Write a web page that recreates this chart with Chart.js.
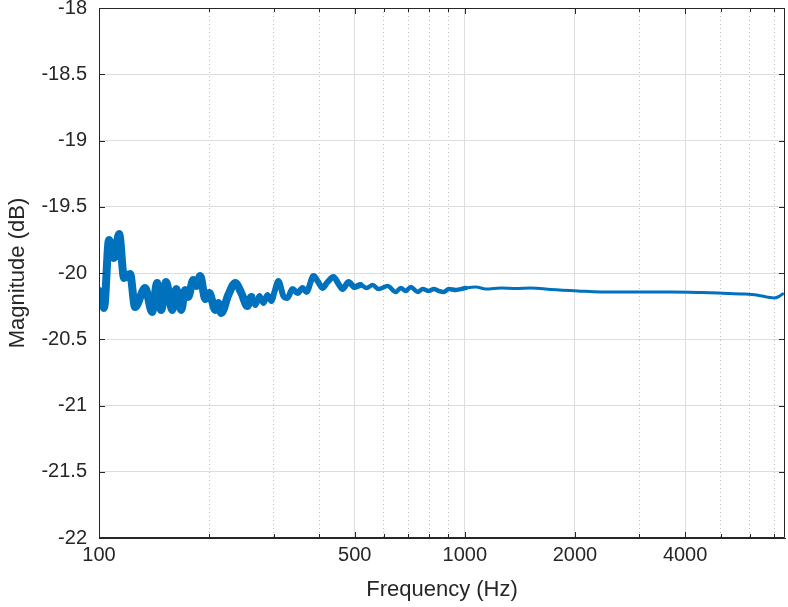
<!DOCTYPE html>
<html>
<head>
<meta charset="utf-8">
<title>Magnitude response</title>
<script src="https://cdn.jsdelivr.net/npm/chart.js@4/dist/chart.umd.min.js"></script>
<style>
  html, body { margin: 0; padding: 0; background: #fff; }
</style>
</head>
<body>
<canvas id="magChart" width="788" height="607"></canvas>
<script>
// values
const freqHz = [100, 101.3, 103.2, 106.5, 109.9, 113.5, 117.1, 121.6, 125.5, 133.7,
  139.7, 144.2, 147.9, 152.6, 158.5, 162.6, 167.8, 172.0, 175.3, 180.9,
  184.4, 189.1, 195.2, 200.2, 207.9, 211.8, 215.9, 225.6, 235.8, 244.9,
  254.4, 260.9, 267.6, 274.4, 281.4, 288.6, 296.0, 301.7, 309.3, 319.3,
  327.4, 337.9, 348.8, 360.0, 369.1, 385.8, 395.7, 408.3, 421.4, 437.7,
  451.7, 463.3, 481.1, 499.6, 518.9, 538.9, 559.7, 581.3, 615.2, 647.1,
  667.9, 689.3, 711.4, 743.4, 767.2, 796.9, 822.5, 848.8, 876.0, 904.1,
  944.7, 1006, 1072, 1142, 1255, 1380, 1516, 1720, 2040, 2358,
  2979, 3668, 4433, 4934, 5705, 6271, 6679, 7025, 7250, 7388];

const magDb = [-20.136, -20.189, -20.264, -19.751, -19.887, -19.706, -20.038, -20.008, -20.257, -20.113,
  -20.294, -20.075, -20.279, -20.068, -20.279, -20.121, -20.279, -20.128, -20.181, -20.053,
  -20.098, -20.023, -20.196, -20.151, -20.279, -20.226, -20.302, -20.166, -20.075, -20.151,
  -20.249, -20.181, -20.242, -20.174, -20.226, -20.166, -20.211, -20.143, -20.060, -20.174,
  -20.189, -20.121, -20.151, -20.113, -20.143, -20.023, -20.060, -20.113, -20.068, -20.030,
  -20.083, -20.121, -20.068, -20.106, -20.091, -20.113, -20.091, -20.121, -20.098, -20.143,
  -20.113, -20.136, -20.106, -20.143, -20.121, -20.136, -20.121, -20.136, -20.143, -20.121,
  -20.128, -20.113, -20.106, -20.121, -20.113, -20.117, -20.113, -20.125, -20.136, -20.143,
  -20.143, -20.143, -20.147, -20.151, -20.158, -20.166, -20.181, -20.189, -20.174, -20.158];

const xTickValues = [100, 200, 300, 400, 500, 600, 700, 800, 900, 1000,
  2000, 3000, 4000, 5000, 6000, 7000];
const xTickLabels = [100, 500, 1000, 2000, 4000];

const axisColor = '#262626';
const lineBlue = '#0072bd';
const fontFamily = '"Liberation Sans", Arial, sans-serif';

const isMajorX = v => xTickLabels.includes(v);

// box around the plot plus inward tick marks
const frameTicks = {
  id: 'frameTicks',
  afterDatasetsDraw(chart) {
    const { ctx, chartArea: a, scales: { x, y } } = chart;
    ctx.save();
    ctx.strokeStyle = axisColor;
    ctx.lineWidth = 1;
    ctx.beginPath();
    x.ticks.forEach(t => {
      const px = Math.round(x.getPixelForValue(t.value)) + 0.5;
      const len = isMajorX(t.value) ? 6 : 4;
      ctx.moveTo(px, a.bottom); ctx.lineTo(px, a.bottom - len);
      ctx.moveTo(px, a.top); ctx.lineTo(px, a.top + len);
    });
    y.ticks.forEach(t => {
      const py = Math.round(y.getPixelForValue(t.value)) + 0.5;
      ctx.moveTo(a.left, py); ctx.lineTo(a.left + 6, py);
      ctx.moveTo(a.right, py); ctx.lineTo(a.right - 6, py);
    });
    ctx.rect(Math.round(a.left) + 0.5, Math.round(a.top) + 0.5,
      Math.round(a.right - a.left) - 1, Math.round(a.bottom - a.top) - 1);
    ctx.stroke();
    ctx.restore();
  }
};

new Chart(document.getElementById('magChart'), {
  type: 'line',
  data: {
    datasets: [{
      label: 'Magnitude',
      data: freqHz.map((f, i) => ({ x: f, y: magDb[i] })),
      borderColor: lineBlue,
      borderWidth: 3,
      borderCapStyle: 'round',
      borderJoinStyle: 'round',
      pointRadius: 0,
      cubicInterpolationMode: 'monotone',
      // the measured trace is a thick ripple band at low frequency
      segment: {
        borderWidth: c => {
          const f = c.p0.parsed.x;
          if (f < 260) return 8;
          if (f < 500) return 6;
          if (f < 1000) return 4.5;
          return 3;
        }
      }
    }]
  },
  options: {
    responsive: false,
    animation: false,
    layout: { padding: { top: 8, right: 3, left: 0, bottom: 0 } },
    plugins: { legend: { display: false }, tooltip: { enabled: false } },
    scales: {
      x: {
        type: 'logarithmic',
        min: 100,
        max: 7500,
        afterBuildTicks: s => { s.ticks = xTickValues.map(v => ({ value: v })); },
        afterFit: s => {
          s.height = 69;
          s.paddingLeft = 0; s.paddingRight = 0;
        },
        ticks: {
          autoSkip: false,
          maxRotation: 0,
          padding: 5,
          color: axisColor,
          font: { family: fontFamily, size: 20 },
          callback: v => isMajorX(v) ? String(v) : ''
        },
        grid: {
          drawTicks: false,
          color: c => isMajorX(c.tick && c.tick.value) ? '#dedede' : '#bdbdbd'
        },
        border: {
          color: axisColor,
          dash: c => (c.type === 'tick' && !isMajorX(c.tick.value)) ? [1, 3] : []
        },
        title: {
          display: true,
          text: 'Frequency (Hz)',
          color: axisColor,
          font: { family: fontFamily, size: 22 },
          padding: { top: 0, bottom: 4 }
        }
      },
      y: {
        min: -22,
        max: -18,
        afterFit: s => {
          s.width = 99;
          s.paddingTop = 0; s.paddingBottom = 0;
        },
        ticks: {
          stepSize: 0.5,
          padding: 12,
          color: axisColor,
          font: { family: fontFamily, size: 20 },
          callback: v => String(v)
        },
        grid: { drawTicks: false, color: '#dedede' },
        border: { color: axisColor },
        title: {
          display: true,
          text: 'Magnitude (dB)',
          color: axisColor,
          font: { family: fontFamily, size: 22 },
          padding: { top: 5, bottom: 0 }
        }
      }
    }
  },
  plugins: [frameTicks]
});
</script>
</body>
</html>
